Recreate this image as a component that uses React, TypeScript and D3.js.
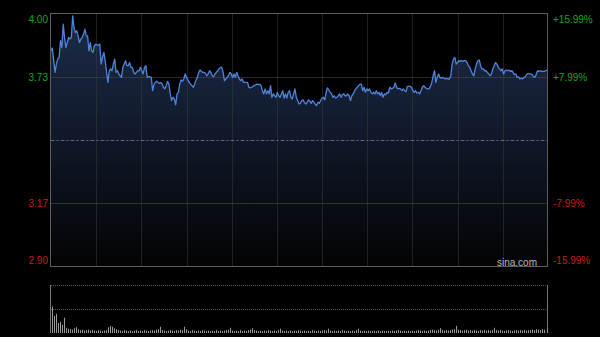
import React from "react";
import * as d3 from "d3";

const PREV_CLOSE = 3.45;

// intraday price readings (left to right)
const prices: number[] = [
  3.839, 3.851, 3.796, 3.745, 3.783, 3.804, 3.810, 3.883, 3.853, 3.955,
  3.897, 3.853, 3.875, 3.897, 3.890, 3.897, 3.991, 3.940, 3.919, 3.926,
  3.904, 3.875, 3.890, 3.897, 3.912, 3.933, 3.904, 3.904, 3.839, 3.875,
  3.839, 3.832, 3.861, 3.868, 3.864, 3.864, 3.868, 3.781, 3.810, 3.832,
  3.796, 3.745, 3.701, 3.752, 3.760, 3.752, 3.781, 3.803, 3.745, 3.752,
  3.738, 3.730, 3.723, 3.767, 3.781, 3.796, 3.774, 3.774, 3.788, 3.767,
  3.767, 3.745, 3.738, 3.745, 3.752, 3.752, 3.767, 3.752, 3.738, 3.767,
  3.774, 3.723, 3.726, 3.726, 3.723, 3.665, 3.694, 3.701, 3.706, 3.701,
  3.697, 3.701, 3.694, 3.680, 3.673, 3.687, 3.706, 3.694, 3.651, 3.622,
  3.636, 3.629, 3.604, 3.651, 3.658, 3.694, 3.712, 3.706, 3.716, 3.738,
  3.723, 3.712, 3.701, 3.694, 3.687, 3.680, 3.694, 3.712, 3.723, 3.745,
  3.755, 3.749, 3.745, 3.745, 3.740, 3.730, 3.738, 3.752, 3.745, 3.730,
  3.726, 3.738, 3.745, 3.752, 3.760, 3.767, 3.767, 3.745, 3.709, 3.716,
  3.723, 3.730, 3.745, 3.738, 3.723, 3.738, 3.723, 3.745, 3.730, 3.716,
  3.709, 3.716, 3.701, 3.701, 3.701,
  3.701, 3.680, 3.677, 3.680, 3.683, 3.687, 3.691, 3.694, 3.691, 3.694,
  3.687, 3.665, 3.651, 3.673, 3.651, 3.665, 3.651, 3.687, 3.636, 3.651,
  3.643, 3.636, 3.658, 3.643, 3.636, 3.651, 3.665, 3.633, 3.651, 3.633,
  3.658, 3.665, 3.636, 3.629, 3.651, 3.673, 3.636, 3.622, 3.607, 3.610,
  3.622, 3.625, 3.614, 3.607, 3.614, 3.625, 3.619, 3.610, 3.622, 3.614,
  3.607, 3.600, 3.614, 3.610, 3.622, 3.633, 3.636, 3.625, 3.658, 3.677,
  3.668, 3.658, 3.651, 3.636, 3.643, 3.633, 3.636, 3.643, 3.651, 3.636,
  3.648, 3.651, 3.643,
  3.643, 3.651, 3.643, 3.622, 3.643, 3.651, 3.665, 3.673, 3.680, 3.687,
  3.694, 3.694, 3.665, 3.680, 3.658, 3.673, 3.665, 3.673, 3.658, 3.651,
  3.658, 3.651, 3.665, 3.651, 3.658, 3.643, 3.658, 3.636, 3.651, 3.647,
  3.658, 3.655, 3.680, 3.673, 3.675, 3.680, 3.699, 3.680, 3.673, 3.675,
  3.673, 3.665, 3.673, 3.665, 3.661, 3.684, 3.684, 3.684, 3.680, 3.665,
  3.658, 3.665, 3.655, 3.658, 3.651, 3.665, 3.680, 3.687, 3.680, 3.675,
  3.673, 3.673, 3.684, 3.701, 3.730, 3.752, 3.701, 3.723, 3.738, 3.723,
  3.719, 3.723, 3.719, 3.716, 3.719,
  3.716, 3.716, 3.730, 3.781, 3.803, 3.810, 3.781, 3.788, 3.796, 3.793,
  3.796, 3.793, 3.796, 3.796, 3.788, 3.774, 3.767, 3.752, 3.738, 3.730,
  3.760, 3.781, 3.796, 3.799, 3.774, 3.760, 3.760, 3.752, 3.752, 3.745,
  3.738, 3.730, 3.738, 3.760, 3.774, 3.788, 3.781, 3.767, 3.760, 3.752,
  3.760, 3.738, 3.752, 3.755, 3.752, 3.755, 3.749, 3.752, 3.745, 3.735,
  3.738, 3.723, 3.726, 3.716, 3.720, 3.716, 3.723, 3.726, 3.735, 3.740,
  3.738, 3.738, 3.735, 3.726, 3.723, 3.735, 3.752, 3.749, 3.752, 3.749,
  3.749, 3.749, 3.752, 3.755,
];

// volume (relative units, 100 = top of volume panel)
const volumes: number[] = [
  55, 36, 40, 21, 23, 17, 32, 11, 9, 8, 7, 10, 12, 8, 6, 7, 5, 6, 7, 5,
  6, 5, 4, 6, 5, 4, 5, 6, 12, 15, 13, 10, 8, 6, 5, 4, 6, 5, 4, 5,
  4, 5, 6, 4, 5, 4, 6, 5, 4, 5, 6, 5, 7, 8, 13, 6, 5, 4, 5, 6,
  5, 4, 6, 5, 7, 6, 13, 8, 5, 4, 6, 5, 4, 5, 4, 6, 5, 4, 5, 4,
  5, 4, 6, 4, 5, 4, 5, 6, 7, 11, 5, 4, 5, 4, 6, 4, 5, 4, 6, 7,
  10, 6, 5, 4, 5, 4, 5, 4, 6, 5, 4, 5, 4, 6, 9, 5, 4, 5, 4, 5,
  4, 5, 4, 6, 5, 4, 5, 4, 5, 4, 6, 5, 4, 5, 4, 5, 6, 5, 9, 5,
  4, 5, 4, 5, 4, 6, 5, 4, 5, 4, 5, 4, 6, 9, 5, 4, 5, 4, 5, 4,
  4, 5, 4, 5, 4, 5, 4, 4, 5, 4, 5, 4, 5, 6, 5, 4, 5, 4, 5, 4,
  5, 4, 5, 6, 5, 4, 5, 4, 5, 6, 7, 6, 5, 7, 10, 6, 5, 6, 5, 6,
  7, 8, 15, 7, 6, 5, 6, 7, 5, 6, 5, 6, 5, 4, 6, 5, 6, 5, 6, 5,
  6, 11, 6, 5, 6, 5, 4, 5, 6, 5, 4, 5, 6, 5, 6, 5, 6, 5, 6, 6,
  7, 6, 8, 7, 6, 8, 7, 9,
];

const tickPct: number[] = [0.1599, 0.0799, 0, -0.0799, -0.1599];
const leftLabels: string[] = ["4.00", "3.73", "", "3.17", "2.90"];
const rightLabels: string[] = ["+15.99%", "+7.99%", "", "-7.99%", "-15.99%"];
const VGRID_DIVISIONS = 11;

const GREEN = "#14a814";
const RED = "#cc1a1a";
const FONT = "'Liberation Sans', Arial, Helvetica, sans-serif";

export default function App() {
  const W = 600;
  const H = 337;
  const left = 50.5;
  const right = 547.5;
  const top = 13.5;
  const bottom = 266.5;

  const y = d3
    .scaleLinear()
    .domain([PREV_CLOSE * (1 - 0.1599), PREV_CLOSE * (1 + 0.1599)])
    .range([bottom, top]);
  const x = d3
    .scaleLinear()
    .domain([0, prices.length - 1])
    .range([51, 547]);

  const lineGen = d3
    .line<number>()
    .x((_, i) => x(i))
    .y((d) => y(d));
  const areaGen = d3
    .area<number>()
    .x((_, i) => x(i))
    .y0(bottom)
    .y1((d) => y(d));

  const gx = d3.scaleLinear().domain([0, VGRID_DIVISIONS]).range([51, 548]);
  const vGrid = d3.range(1, VGRID_DIVISIONS).map((k) => Math.round(gx(k)) + 0.5);

  const vTop = 285;
  const vBot = 333;
  const vy = d3.scaleLinear().domain([0, 100]).range([vBot, vTop]);
  const vx = d3
    .scaleLinear()
    .domain([0, volumes.length - 1])
    .range([51.5, 546.5]);

  const labelY = (i: number, yy: number) =>
    i === 0 ? yy + 9.5 : i === tickPct.length - 1 ? yy - 2.5 : yy + 4;

  return (
    <svg
      width={W}
      height={H}
      style={{ position: "absolute", left: 0, top: 0, display: "block", background: "#000" }}
    >
      <defs>
        <linearGradient id="areaGrad" gradientUnits="userSpaceOnUse" x1="0" y1={top} x2="0" y2={bottom}>
          <stop offset="0" stopColor="#1d2c4a" />
          <stop offset="0.45" stopColor="#111a2c" />
          <stop offset="1" stopColor="#030304" />
        </linearGradient>
      </defs>
      <rect x={0} y={0} width={W} height={H} fill="#000" />

      <path d={areaGen(prices) || ""} fill="url(#areaGrad)" />

      {vGrid.map((gxp, i) => (
        <line
          key={"vg" + i}
          x1={gxp}
          x2={gxp}
          y1={top}
          y2={bottom}
          stroke="#3c3c3c"
          strokeDasharray="1,1"
        />
      ))}

      {tickPct.map((p, i) => {
        if (i === 0 || i === tickPct.length - 1) return null;
        const yy = Math.round(y(PREV_CLOSE * (1 + p))) + 0.5;
        const mid = p === 0;
        return (
          <line
            key={"hg" + i}
            x1={left}
            x2={right}
            y1={yy}
            y2={yy}
            stroke={mid ? "#5f6778" : "#505050"}
            strokeWidth={1}
            strokeDasharray={mid ? "4,2,2,2" : "1,1"}
          />
        );
      })}

      <path d={lineGen(prices) || ""} fill="none" stroke="#4e84da" strokeWidth={1.3} strokeLinejoin="round" />

      <rect x={left} y={top} width={right - left} height={bottom - top} fill="none" stroke="#5e5e5e" strokeWidth={1} />

      {tickPct.map((p, i) => {
        const yy = y(PREV_CLOSE * (1 + p));
        if (!leftLabels[i]) return null;
        const col = p > 0 ? GREEN : RED;
        return (
          <g key={"lab" + i} fontFamily={FONT} fontSize={10}>
            <text x={48} y={labelY(i, yy)} textAnchor="end" fill={col}>
              {leftLabels[i]}
            </text>
            <text x={553} y={labelY(i, yy)} textAnchor="start" fill={col}>
              {rightLabels[i]}
            </text>
          </g>
        );
      })}

      <text x={537} y={265.5} textAnchor="end" fontFamily={FONT} fontSize={10} fill="#b8b8b8">
        sina.com
      </text>

      <line x1={51} x2={548} y1={vTop + 0.5} y2={vTop + 0.5} stroke="#555" strokeDasharray="1,1" />
      <line x1={51} x2={548} y1={vy(50) + 0.5} y2={vy(50) + 0.5} stroke="#555" strokeDasharray="1,1" />
      <line x1={50.5} x2={50.5} y1={vTop} y2={vBot} stroke="#777" />
      <line x1={547.5} x2={547.5} y1={vTop} y2={vBot} stroke="#777" />
      {volumes.map((v, i) => (
        <line
          key={"v" + i}
          x1={Math.round(vx(i)) + 0.5}
          x2={Math.round(vx(i)) + 0.5}
          y1={vBot}
          y2={vy(v)}
          stroke="#9a9a9a"
          strokeWidth={1}
        />
      ))}
    </svg>
  );
}
